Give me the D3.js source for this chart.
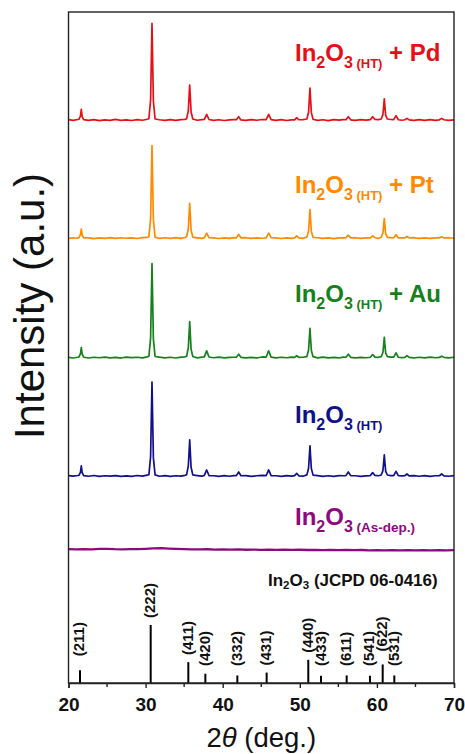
<!DOCTYPE html>
<html>
<head>
<meta charset="utf-8">
<script src="https://cdn.jsdelivr.net/npm/d3@7"></script>
<style>
  html, body { margin: 0; padding: 0; background: #fff; }
  svg { display: block; font-family: "Liberation Sans", Arial, sans-serif; }
</style>
</head>
<body>
<svg id="chart" width="465" height="754"></svg>
<script>
// ---------------- data ----------------
// Shared 2θ grid (deg.) for the crystalline patterns
const twoTheta = [
  20.0, 20.6, 21.2,
  21.35, 21.55, 21.66, 21.77, 21.97,
  22.6, 23.3, 24.0, 24.7, 25.4, 26.1, 26.8, 27.5, 28.2, 28.9, 29.6, 30.2,
  30.43, 30.65, 30.76, 30.83, 30.9, 31.01, 31.23,
  31.8, 32.5, 33.2, 33.9, 34.6, 35.1,
  35.32, 35.54, 35.65, 35.72, 35.79, 35.9, 36.12,
  36.7, 37.3,
  37.62, 37.92, 38.22,
  38.8, 39.5, 40.2, 40.9, 41.4,
  41.77, 42.07, 42.37,
  43.0, 43.7, 44.4, 45.1,
  45.64, 45.96, 46.28,
  46.9, 47.6, 48.3, 48.9,
  49.33, 49.6, 49.87,
  50.4,
  50.92, 51.14, 51.25, 51.32, 51.39, 51.5, 51.72,
  52.3, 53.0, 53.7, 54.4, 55.1, 55.6,
  55.98, 56.29, 56.6,
  57.2, 57.9, 58.6,
  59.15, 59.45, 59.75,
  60.2,
  60.56, 60.78, 60.89, 60.96, 61.03, 61.14, 61.36,
  61.8,
  62.18, 62.48, 62.78,
  63.25,
  63.62, 63.9, 64.18,
  64.8, 65.5, 66.2, 66.9, 67.6,
  68.1, 68.4, 68.7,
  69.3, 70.0
];

// Intensities (a.u.) above each pattern's own baseline
const intensityPd = [
  0.5, -0.5, 0.8,
  1, 6, 16, 5, 0.5,
  -0.5, 0.6, -0.8, 0.3, -0.6, 0.9, -0.4, 0.2, -0.7, 0.5, -0.3, 1.2,
  2, 30, 100, 144, 98, 28, 1.5,
  0.4, -0.6, 0.7, -0.4, 0.5, 1.0,
  2, 14, 38, 52, 37, 12, 1.5,
  -0.3, 0.6,
  1, 8.5, 0.8,
  -0.5, 0.4, -0.7, 0.3, 0.6,
  0.5, 5, 0.2,
  -0.6, 0.5, -0.3, 0.8,
  0.7, 8.5, 0.5,
  -0.4, 0.6, -0.7, 0.3,
  0.3, 3.5, 0.4,
  0.6,
  1.5, 12, 34, 47.5, 33, 11, 1.2,
  -0.5, 0.4, -0.8, 0.5, -0.2, 0.7,
  0.4, 5, 0.3,
  -0.6, 0.5, -0.2,
  0.6, 5, 0.8,
  0.5,
  1.5, 8, 22, 31.5, 21, 7, 1.5,
  0.8,
  0.6, 6.5, 0.4,
  -0.3,
  0.4, 2.5, 0.2,
  -0.5, 0.6, -0.4, 0.5, -0.6,
  0.3, 2.5, 0.4,
  -0.5, 0.3
];

const intensityPt = [
  -0.4, 0.6, -0.2,
  0.8, 5, 13.5, 4.5, 0.3,
  0.5, -0.7, 0.4, -0.3, 0.8, -0.5, 0.6, -0.2, 0.4, -0.6, 0.7, 1.0,
  2, 29, 96, 138, 94, 27, 1.5,
  -0.5, 0.6, -0.3, 0.7, -0.4, 0.9,
  2, 14, 37, 52, 36, 12, 1.5,
  0.5, -0.4,
  0.8, 7.5, 0.6,
  0.3, -0.6, 0.5, -0.4, 0.7,
  0.4, 5.5, 0.5,
  0.6, -0.4, 0.5, -0.2,
  0.5, 7.5, 0.6,
  0.5, -0.6, 0.4, -0.3,
  0.4, 3.5, 0.3,
  -0.4,
  1.5, 11, 30, 42.5, 29, 10, 1.2,
  0.6, -0.5, 0.4, -0.7, 0.5, 0.3,
  0.5, 4.5, 0.4,
  0.6, -0.4, 0.5,
  0.4, 3.5, 0.6,
  -0.3,
  1.4, 7.5, 20, 29, 19.5, 6.5, 1.2,
  0.6,
  0.5, 5, 0.3,
  0.5,
  0.3, 2.5, 0.4,
  0.6, -0.5, 0.4, -0.3, 0.5,
  0.4, 2, 0.3,
  0.6, -0.2
];

const intensityAu = [
  0.3, -0.6, 0.5,
  1, 5.5, 15, 5, 0.5,
  -0.6, 0.5, -0.3, 0.7, -0.5, 0.4, -0.7, 0.6, -0.2, 0.5, -0.4, 1.1,
  2, 29, 97, 140, 95, 27, 1.6,
  0.6, -0.4, 0.5, -0.6, 0.7, 1.0,
  2, 14.5, 38, 53.5, 37, 12.5, 1.6,
  -0.4, 0.7,
  1, 10, 0.8,
  -0.3, 0.6, -0.5, 0.4, 0.5,
  0.6, 5, 0.4,
  -0.5, 0.4, -0.6, 0.9,
  0.8, 10, 0.6,
  -0.4, 0.5, -0.3, 0.6,
  0.4, 3, 0.2,
  0.5,
  1.5, 11.5, 31, 43.5, 30, 10.5, 1.3,
  -0.4, 0.6, -0.5, 0.3, -0.6, 0.6,
  0.5, 5, 0.4,
  -0.5, 0.4, -0.3,
  0.5, 4.5, 0.7,
  0.4,
  1.5, 7.5, 21, 30, 20, 6.5, 1.4,
  0.7,
  0.6, 7, 0.5,
  -0.2,
  0.4, 3, 0.3,
  -0.6, 0.5, -0.4, 0.6, -0.3,
  0.3, 2, 0.4,
  -0.4, 0.5
];

const intensityHT = [
  0.6, -0.3, 0.7,
  1, 5.5, 15, 5, 0.6,
  -0.4, 0.7, -0.6, 0.4, -0.3, 0.6, -0.5, 0.3, -0.6, 0.7, -0.2, 1.2,
  2, 29, 97, 140, 95, 27, 1.6,
  -0.4, 0.6, -0.5, 0.4, -0.3, 1.0,
  2, 15, 38, 54, 37, 13, 1.6,
  0.6, -0.3,
  1, 9, 0.7,
  0.4, -0.5, 0.6, -0.4, 0.5,
  0.5, 6, 0.4,
  0.5, -0.6, 0.4, 0.8,
  0.7, 9, 0.5,
  0.4, -0.5, 0.6, -0.3,
  0.5, 4, 0.3,
  -0.3,
  1.6, 12, 32, 45, 31, 11, 1.3,
  0.5, -0.6, 0.4, -0.5, 0.6, 0.4,
  0.6, 6, 0.5,
  0.4, -0.5, 0.3,
  0.6, 5, 0.8,
  0.4,
  1.5, 8, 22, 31.5, 21, 7, 1.5,
  0.6,
  0.6, 7, 0.5,
  0.3,
  0.4, 3, 0.3,
  0.5, -0.4, 0.6, -0.5, 0.4,
  0.4, 3, 0.3,
  -0.4, 0.5
];

// As-deposited film: amorphous, 1° steps
const twoThetaAsDep = [
  20, 21, 22, 23, 24, 25, 26, 27, 28, 29, 30, 31, 32, 33, 34, 35, 36,
  37, 38, 39, 40, 41, 42, 43, 44, 45, 46, 47, 48, 49, 50, 51, 52, 53,
  54, 55, 56, 57, 58, 59, 60, 61, 62, 63, 64, 65, 66, 67, 68, 69, 70
];
const intensityAsDep = [
  1.5, 1.0, 1.6, 1.2, 1.8, 2.0, 1.4, 1.1, 1.5, 1.6, 2.0, 2.6, 3.0, 2.4, 1.9, 1.5, 1.2,
  1.0, 1.3, 0.8, 1.0, 0.7, 1.1, 0.6, 0.9, 0.5, 0.8, 0.4, 0.7, 0.3, 0.6, 0.2, 0.5, 0.1,
  0.4, 0.0, 0.3, -0.1, 0.2, -0.2, 0.1, -0.3, 0.0, -0.2, 0.1, -0.3, 0.0, -0.4, -0.1, -0.3, 0.0
];

// Vertical stacking offset of each pattern (a.u.)
const stackOffset = [839, 663, 485, 308.5, 198];
const sampleSub = ["(HT)", "(HT)", "(HT)", "(HT)", "(As-dep.)"];
const sampleSuffix = ["+ Pd", "+ Pt", "+ Au", "", ""];

// Reference pattern In2O3 (JCPD 06-0416)
const refTwoTheta = [21.49, 30.66, 35.54, 37.75, 41.9, 45.7, 51.1, 52.75, 56.08, 59.1, 60.75, 62.26];
const refIntensity = [22, 100, 36, 16, 13, 18, 40, 12.5, 13, 12.5, 32, 13];
const refHkl = ["(211)", "(222)", "(411)", "(420)", "(332)", "(431)", "(440)", "(433)", "(611)", "(541)", "(622)", "(531)"];

const xTicks = [20, 30, 40, 50, 60, 70];
const xMinorTicks = [25, 35, 45, 55, 65];

// ---------------- layout & style ----------------
const colors = ["#e50f17", "#ff8a00", "#16801a", "#10108c", "#8c0a7e"];
const labelBaseline = [61, 193, 302, 423, 525];
const plot = { left: 68.5, right: 454, top: 12, bottom: 683 };

const svg = d3.select("#chart");
const x = d3.scaleLinear().domain([20, 70]).range([plot.left, plot.right]);
const y = d3.scaleLinear().domain([0, 1000]).range([plot.bottom, plot.top]);
const yRef = d3.scaleLinear().domain([0, 100]).range([plot.bottom, plot.bottom - 58]);

// patterns
const series = [
  { t: twoTheta, v: intensityPd },
  { t: twoTheta, v: intensityPt },
  { t: twoTheta, v: intensityAu },
  { t: twoTheta, v: intensityHT },
  { t: twoThetaAsDep, v: intensityAsDep }
];

const line = d3.line().x(d => x(d[0])).y(d => y(d[1]));
series.forEach((s, i) => {
  const pts = s.t.map((t, k) => [t, s.v[k] + stackOffset[i]]);
  svg.append("path")
    .datum(pts)
    .attr("fill", "none")
    .attr("stroke", colors[i])
    .attr("stroke-width", i === 4 ? 2.3 : 1.7)
    .attr("stroke-linejoin", "round")
    .attr("d", line);
});

// sample labels
series.forEach((s, i) => {
  const t = svg.append("text")
    .attr("x", 295)
    .attr("y", labelBaseline[i])
    .attr("fill", colors[i])
    .attr("font-weight", "bold")
    .attr("font-size", 24);
  t.append("tspan").text("In");
  t.append("tspan").attr("font-size", 16).attr("dy", 7).text("2");
  t.append("tspan").attr("dy", -7).text("O");
  t.append("tspan").attr("font-size", 16).attr("dy", 7).text("3");
  t.append("tspan").attr("font-size", i === 4 ? 13.5 : 13).text("\u00a0" + sampleSub[i]);
  if (sampleSuffix[i]) {
    t.append("tspan").attr("dy", -7).text("\u00a0" + sampleSuffix[i]);
  }
});

// reference sticks
svg.append("g")
  .selectAll("line")
  .data(refTwoTheta)
  .join("line")
  .attr("x1", d => x(d))
  .attr("x2", d => x(d))
  .attr("y1", plot.bottom)
  .attr("y2", (d, i) => yRef(refIntensity[i]))
  .attr("stroke", "#000")
  .attr("stroke-width", 2);

const labelNudge = { "(211)": 7, "(622)": 6 };
svg.append("g")
  .selectAll("text")
  .data(refHkl)
  .join("text")
  .attr("transform", (d, i) => {
    const yb = Math.min(yRef(refIntensity[i]) - 7, 666) - (labelNudge[d] || 0);
    return `translate(${x(refTwoTheta[i])},${yb}) rotate(-90)`;
  })
  .attr("dy", "0.3em")
  .attr("font-size", 15)
  .attr("font-weight", "bold")
  .attr("fill", "#111")
  .text(d => d);

// reference title
const refTitle = svg.append("text")
  .attr("x", 268)
  .attr("y", 586)
  .attr("font-size", 17)
  .attr("font-weight", "bold")
  .attr("fill", "#111");
refTitle.append("tspan").text("In");
refTitle.append("tspan").attr("font-size", 11.5).attr("dy", 3).text("2");
refTitle.append("tspan").attr("dy", -3).text("O");
refTitle.append("tspan").attr("font-size", 11.5).attr("dy", 3).text("3");
refTitle.append("tspan").attr("dy", -3).text("\u00a0(JCPD 06-0416)");

// frame
svg.append("rect")
  .attr("x", plot.left).attr("y", plot.top)
  .attr("width", plot.right - plot.left).attr("height", plot.bottom - plot.top)
  .attr("fill", "none").attr("stroke", "#222").attr("stroke-width", 1.4);

// x axis
const xAxis = svg.append("g")
  .attr("transform", `translate(0,${plot.bottom})`)
  .call(d3.axisBottom(x).tickValues(xTicks).tickSize(5).tickPadding(10).tickFormat(d3.format("d")));
xAxis.select(".domain").attr("stroke", "#222").attr("stroke-width", 1.4);
xAxis.selectAll(".tick line").attr("stroke", "#222").attr("stroke-width", 1.4);
xAxis.selectAll(".tick text")
  .attr("font-family", "'Liberation Sans', Arial, sans-serif")
  .attr("font-size", 19).attr("font-weight", "bold").attr("fill", "#111");
svg.append("g")
  .attr("transform", `translate(0,${plot.bottom})`)
  .selectAll("line")
  .data(xMinorTicks)
  .join("line")
  .attr("x1", d => x(d)).attr("x2", d => x(d))
  .attr("y1", 0).attr("y2", 4)
  .attr("stroke", "#222").attr("stroke-width", 1.4);

// axis titles
const xTitle = svg.append("text")
  .attr("x", (plot.left + plot.right) / 2)
  .attr("y", 747)
  .attr("text-anchor", "middle")
  .attr("font-size", 27.5)
  .attr("fill", "#111");
xTitle.append("tspan").text("2");
xTitle.append("tspan").attr("font-style", "italic").text("\u03b8");
xTitle.append("tspan").text(" (deg.)");

svg.append("text")
  .attr("transform", "translate(44,306) rotate(-90)")
  .attr("text-anchor", "middle")
  .attr("font-size", 42)
  .attr("fill", "#111")
  .text("Intensity (a.u.)");
</script>
</body>
</html>
